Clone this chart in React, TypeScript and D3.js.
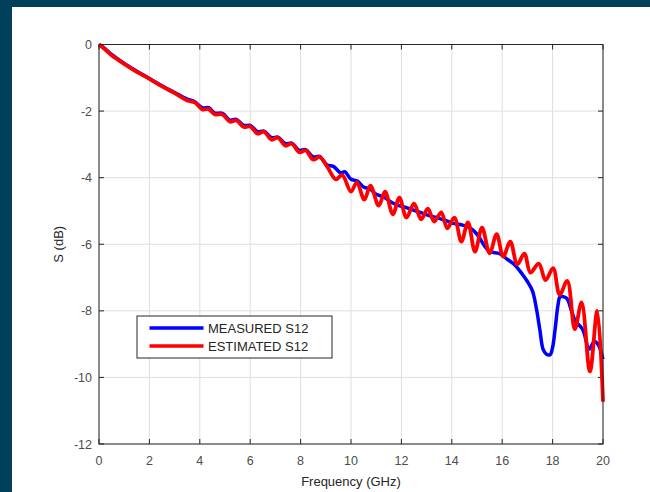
import React from "react";
import * as d3 from "d3";

const xTicks = [0, 2, 4, 6, 8, 10, 12, 14, 16, 18, 20];
const yTicks = [0, -2, -4, -6, -8, -10, -12];

const measuredFreq = [
  0, 0.2, 0.5, 1, 1.5, 2, 2.5, 3, 3.5, 3.8, 4.1, 4.35, 4.6, 4.9, 5.2, 5.45, 5.75, 6.0, 6.3, 6.55,
  6.85, 7.1, 7.4, 7.65, 7.95, 8.2, 8.5, 8.75, 9.05, 9.3, 9.6, 9.75, 10.0, 10.25, 10.5, 10.75, 11.0,
  11.3, 11.6, 11.9, 12.2, 12.5, 12.8, 13.1, 13.4, 13.8, 14.1, 14.4, 14.7, 15.0, 15.3, 15.5, 15.9,
  16.2, 16.5, 16.8, 17.0, 17.2, 17.35, 17.5, 17.62, 17.75, 17.9, 18.0, 18.1, 18.22, 18.3, 18.55,
  18.75, 18.9, 19.2, 19.45, 19.65, 19.8, 20.0,
];
const measuredS12 = [
  0, -0.1, -0.3, -0.57, -0.8, -1.02, -1.24, -1.44, -1.64, -1.72, -1.9, -1.9, -2.06, -2.07, -2.27,
  -2.25, -2.43, -2.43, -2.62, -2.6, -2.8, -2.78, -2.98, -2.96, -3.18, -3.16, -3.38, -3.36, -3.62,
  -3.66, -3.86, -3.82, -4.05, -4.1, -4.28, -4.34, -4.5, -4.58, -4.74, -4.84, -4.9, -4.98, -5.06,
  -5.14, -5.2, -5.3, -5.38, -5.42, -5.5, -5.7, -6.05, -6.22, -6.28, -6.45, -6.62, -6.9, -7.12, -7.4,
  -7.9, -8.6, -9.15, -9.3, -9.32, -9.1, -8.55, -7.8, -7.58, -7.62, -8.0, -8.3, -8.57, -9.15, -8.92,
  -9.0, -9.45,
];

const estimatedFreq = [
  0, 0.2, 0.5, 1.0, 1.5, 2.0, 2.5, 3.0, 3.5, 3.8, 4.1, 4.35, 4.6, 4.9, 5.2, 5.45, 5.75, 6.0, 6.3,
  6.55, 6.85, 7.1, 7.4, 7.65, 7.95, 8.2, 8.5, 8.75, 9.05, 9.4, 9.65, 10.0, 10.23, 10.53, 10.77, 11.1,
  11.35, 11.66, 11.92, 12.2, 12.5, 12.78, 13.05, 13.3, 13.58, 13.82, 14.1, 14.38, 14.64, 14.92, 15.2,
  15.5, 15.78, 16.04, 16.32, 16.6, 16.88, 17.12, 17.45, 17.72, 18.02, 18.28, 18.58, 18.88, 19.15,
  19.48, 19.77, 20.0,
];
const estimatedS12 = [
  0, -0.12, -0.32, -0.58, -0.82, -1.03, -1.26, -1.46, -1.68, -1.74, -1.95, -1.94, -2.1, -2.1, -2.32,
  -2.28, -2.48, -2.46, -2.68, -2.62, -2.86, -2.8, -3.04, -2.98, -3.24, -3.18, -3.46, -3.38, -3.66,
  -4.05, -3.92, -4.42, -4.14, -4.66, -4.24, -4.84, -4.42, -5.1, -4.6, -5.2, -4.78, -5.25, -4.93,
  -5.32, -5.04, -5.52, -5.2, -5.92, -5.34, -6.22, -5.5, -6.27, -5.7, -6.37, -5.92, -6.6, -6.28,
  -6.85, -6.58, -7.08, -6.72, -7.52, -7.1, -8.55, -7.75, -9.82, -8.0, -10.73,
];

const seriesNames = ["MEASURED S12", "ESTIMATED S12"];
const xLabel = "Frequency (GHz)";
const yLabel = "S (dB)";

const FONT = "'Liberation Sans', Arial, sans-serif";

export default function App() {
  const W = 650;
  const H = 492;
  const L = 99, R = 603, T = 44.5, B = 444;
  const x = d3.scaleLinear().domain([0, 20]).range([L, R]);
  const y = d3.scaleLinear().domain([-12, 0]).range([B, T]);

  const line = d3
    .line<[number, number]>()
    .x((d) => x(d[0]))
    .y((d) => y(d[1]))
    .curve(d3.curveCatmullRom.alpha(0.5));

  const measured = measuredFreq.map((f, i) => [f, measuredS12[i]] as [number, number]);
  const estimated = estimatedFreq.map((f, i) => [f, estimatedS12[i]] as [number, number]);

  const axisColor = "#262626";
  const gridColor = "#dfdfdf";
  const labelColor = "#4d4d4d";

  return (
    <svg
      width={W}
      height={H}
      style={{ position: "absolute", left: 0, top: 0, display: "block" }}
      fontFamily={FONT}
    >
      <rect x={0} y={0} width={W} height={H} fill="#01405a" />
      <rect x={12} y={7} width={W - 12} height={H - 7} fill="#ffffff" />

      {/* grid */}
      {xTicks.map((t) => (
        <line key={"gx" + t} x1={x(t)} x2={x(t)} y1={T} y2={B} stroke={gridColor} strokeWidth={1} />
      ))}
      {yTicks.map((t) => (
        <line key={"gy" + t} x1={L} x2={R} y1={y(t)} y2={y(t)} stroke={gridColor} strokeWidth={1} />
      ))}

      {/* ticks */}
      {xTicks.map((t) => (
        <g key={"tx" + t}>
          <line x1={x(t)} x2={x(t)} y1={B} y2={B - 5} stroke={axisColor} />
          <line x1={x(t)} x2={x(t)} y1={T} y2={T + 5} stroke={axisColor} />
          <text x={x(t)} y={B + 21} textAnchor="middle" fontSize={12.5} fill={labelColor}>
            {t}
          </text>
        </g>
      ))}
      {yTicks.map((t) => (
        <g key={"ty" + t}>
          <line x1={L} x2={L + 5} y1={y(t)} y2={y(t)} stroke={axisColor} />
          <line x1={R} x2={R - 5} y1={y(t)} y2={y(t)} stroke={axisColor} />
          <text x={L - 7} y={y(t) + 4.5} textAnchor="end" fontSize={12.5} fill={labelColor}>
            {t}
          </text>
        </g>
      ))}

      {/* data */}
      <path d={line(measured) || ""} fill="none" stroke="#0000ff" strokeWidth={3.5} strokeLinejoin="round" />
      <path d={line(estimated) || ""} fill="none" stroke="#ff0000" strokeWidth={3.8} strokeLinejoin="round" />

      {/* axes box */}
      <rect x={L} y={T} width={R - L} height={B - T} fill="none" stroke={axisColor} strokeWidth={1} />

      {/* axis labels */}
      <text x={(L + R) / 2} y={486} textAnchor="middle" fontSize={13} fill={axisColor}>
        {xLabel}
      </text>
      <text
        transform={`translate(${63},${(T + B) / 2}) rotate(-90)`}
        textAnchor="middle"
        fontSize={13}
        fill={axisColor}
      >
        {yLabel}
      </text>

      {/* legend */}
      <rect x={137} y={316} width={195} height={42} fill="#ffffff" stroke={axisColor} strokeWidth={1} />
      {seriesNames.map((n, i) => (
        <g key={n}>
          <line
            x1={149.5}
            x2={203.5}
            y1={328 + i * 18}
            y2={328 + i * 18}
            stroke={i === 0 ? "#0000ff" : "#ff0000"}
            strokeWidth={3.5}
          />
          <text x={208} y={332.5 + i * 18} fontSize={13} fill={axisColor}>
            {n}
          </text>
        </g>
      ))}
    </svg>
  );
}
